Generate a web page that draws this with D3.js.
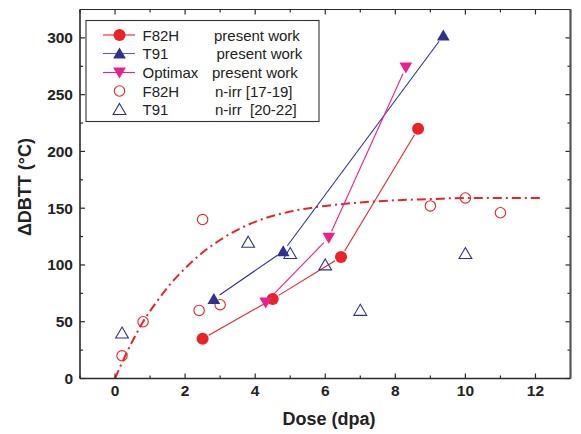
<!DOCTYPE html>
<html><head><meta charset="utf-8">
<script src="https://cdn.jsdelivr.net/npm/d3@7"></script>
<style>body{margin:0;background:#fff}svg{display:block;font-family:"Liberation Sans",Arial,sans-serif}</style>
</head><body><svg id="c" width="581" height="434"></svg>
<script>
// Data
const f82hDose = [2.5, 4.5, 6.45, 8.65];
const f82hDbtt = [35, 70, 107, 220];
const t91Dose = [2.82, 4.8, 9.37];
const t91Dbtt = [70, 112, 302];
const optDose = [4.3, 6.1, 8.3];
const optDbtt = [67, 124, 274];
const f82hIrrDose = [0.2, 0.8, 2.4, 2.5, 3.0, 9.0, 10.0, 11.0];
const f82hIrrDbtt = [20, 50, 60, 140, 65, 152, 159, 146];
const t91IrrDose = [0.2, 3.8, 5.0, 6.0, 7.0, 10.0];
const t91IrrDbtt = [40, 120, 110, 100, 60, 110];
const fitDose = [0, 0.2, 0.5, 0.8, 1.2, 1.6, 2, 2.5, 3, 3.5, 4, 5, 6, 7, 8, 9, 10, 11, 12.2];
const fitDbtt = [0, 14, 33, 50, 68, 84, 97, 111, 122, 131, 138, 147, 152, 155, 157, 158, 159, 159, 159];
const xTicks = [0, 2, 4, 6, 8, 10, 12];
const yTicks = [0, 50, 100, 150, 200, 250, 300];
const legendNames = ["F82H", "T91", "Optimax", "F82H", "T91"];
const legendNotes = ["present work", "present work", "present work", "n-irr [17-19]", "n-irr  [20-22]"];

const RED = "#ec2227", BLUE = "#2e3192", PINK = "#ec208b";
const svg = d3.select("#c");
const L = 80, R = 570.5, T = 9.5, B = 378.5;
const x = d3.scaleLinear().domain([-1, 13]).range([L, R]);
const y = d3.scaleLinear().domain([0, 325]).range([B, T]);
const zip = (a, b) => a.map((v, i) => [v, b[i]]);

// fit curve
svg.append("path").datum(zip(fitDose, fitDbtt))
  .attr("d", d3.line().x(d => x(d[0])).y(d => y(d[1])).curve(d3.curveMonotoneX))
  .attr("fill", "none").attr("stroke", RED).attr("stroke-width", 2)
  .attr("stroke-dasharray", "9,4,2,4");

// connecting lines with gaps at markers
function series(dx, dy, color) {
  const pts = zip(dx, dy).map(d => [x(d[0]), y(d[1])]);
  for (let i = 0; i < pts.length - 1; i++) {
    const [x1, y1] = pts[i], [x2, y2] = pts[i + 1];
    const len = Math.hypot(x2 - x1, y2 - y1), g = 7;
    const ux = (x2 - x1) / len, uy = (y2 - y1) / len;
    svg.append("line").attr("x1", x1 + ux * g).attr("y1", y1 + uy * g)
      .attr("x2", x2 - ux * g).attr("y2", y2 - uy * g)
      .attr("stroke", color).attr("stroke-width", 1.1);
  }
}
series(f82hDose, f82hDbtt, RED);
series(t91Dose, t91Dbtt, BLUE);
series(optDose, optDbtt, PINK);

const triUp = d3.symbol().type(d3.symbolTriangle).size(70);
function triUpPath(s) { return `M0,${-s*0.55}L${s*0.58},${s*0.45}L${-s*0.58},${s*0.45}Z`; }
function triDownPath(s) { return `M0,${s*0.55}L${s*0.58},${-s*0.45}L${-s*0.58},${-s*0.45}Z`; }

function marker(g, kind, cx, cy) {
  if (kind === "dot") g.append("circle").attr("cx", cx).attr("cy", cy).attr("r", 6).attr("fill", RED);
  if (kind === "ring") g.append("circle").attr("cx", cx).attr("cy", cy).attr("r", 5.2).attr("fill", "none").attr("stroke", RED).attr("stroke-width", 1.1);
  if (kind === "up") g.append("path").attr("transform", `translate(${cx},${cy})`).attr("d", triUpPath(11)).attr("fill", BLUE);
  if (kind === "upOpen") g.append("path").attr("transform", `translate(${cx},${cy})`).attr("d", triUpPath(11)).attr("fill", "none").attr("stroke", BLUE).attr("stroke-width", 1.1);
  if (kind === "down") g.append("path").attr("transform", `translate(${cx},${cy})`).attr("d", triDownPath(11)).attr("fill", PINK);
}
const mg = svg.append("g");
zip(f82hIrrDose, f82hIrrDbtt).forEach(d => marker(mg, "ring", x(d[0]), y(d[1])));
zip(t91IrrDose, t91IrrDbtt).forEach(d => marker(mg, "upOpen", x(d[0]), y(d[1])));
zip(f82hDose, f82hDbtt).forEach(d => marker(mg, "dot", x(d[0]), y(d[1])));
zip(t91Dose, t91Dbtt).forEach(d => marker(mg, "up", x(d[0]), y(d[1])));
zip(optDose, optDbtt).forEach(d => marker(mg, "down", x(d[0]), y(d[1])));

// axes
const AX = "#2a2a2a";
const ax = svg.append("g");
const xMinor = d3.range(-1, 13.01, 1), yMinor = d3.range(0, 325, 25);
xMinor.forEach(v => {
  const len = xTicks.includes(v) ? 5 : 3;
  ax.append("line").attr("x1", x(v)).attr("x2", x(v)).attr("y1", B).attr("y2", B - len).attr("stroke", AX).attr("stroke-width", 1.2);
  ax.append("line").attr("x1", x(v)).attr("x2", x(v)).attr("y1", T).attr("y2", T + len).attr("stroke", AX).attr("stroke-width", 1.2);
});
yMinor.forEach(v => {
  const len = yTicks.includes(v) ? 5 : 3;
  ax.append("line").attr("y1", y(v)).attr("y2", y(v)).attr("x1", L).attr("x2", L + len).attr("stroke", AX).attr("stroke-width", 1.2);
  ax.append("line").attr("y1", y(v)).attr("y2", y(v)).attr("x1", R).attr("x2", R - len).attr("stroke", AX).attr("stroke-width", 1.2);
});
ax.append("line").attr("x1", L).attr("x2", R).attr("y1", T).attr("y2", T).attr("stroke", AX).attr("stroke-width", 1);
ax.append("line").attr("x1", L).attr("x2", R).attr("y1", B).attr("y2", B).attr("stroke", AX).attr("stroke-width", 1.6);
ax.append("line").attr("x1", L).attr("x2", L).attr("y1", T).attr("y2", B).attr("stroke", AX).attr("stroke-width", 1.6);
ax.append("line").attr("x1", R).attr("x2", R).attr("y1", T).attr("y2", B).attr("stroke", "#555").attr("stroke-width", 2.2);

xTicks.forEach(v => ax.append("text").attr("x", x(v)).attr("y", 396).attr("text-anchor", "middle")
  .attr("font-size", 15.5).attr("font-weight", "bold").attr("fill", "#222").text(v));
yTicks.forEach(v => ax.append("text").attr("x", 73).attr("y", y(v) + 5.5).attr("text-anchor", "end")
  .attr("font-size", 15.5).attr("font-weight", "bold").attr("fill", "#222").text(v));

svg.append("text").attr("x", 329).attr("y", 425).attr("text-anchor", "middle").attr("font-size", 18)
  .attr("font-weight", "bold").attr("fill", "#222").text("Dose (dpa)");
svg.append("text").attr("transform", "translate(31,187) rotate(-90)").attr("text-anchor", "middle").attr("font-size", 18)
  .attr("font-weight", "bold").attr("fill", "#222").text("ΔDBTT (°C)");

// legend
const lg = svg.append("g");
lg.append("rect").attr("x", 86).attr("y", 20.5).attr("width", 233).attr("height", 101)
  .attr("fill", "#fff").attr("stroke", "#333").attr("stroke-width", 1.1);
const rowsY = [35, 53.5, 72.5, 91, 109.5];
const kinds = ["dot", "up", "down", "ring", "upOpen"];
const colors = [RED, "#5b63b0", PINK, null, null];
const noteX = [214, 216.5, 212, 215, 215];
rowsY.forEach((ry, i) => {
  if (colors[i]) lg.append("line").attr("x1", 103).attr("x2", 135).attr("y1", ry).attr("y2", ry).attr("stroke", colors[i]).attr("stroke-width", 1.1);
  marker(lg, kinds[i], 119.5, ry);
  lg.append("text").attr("x", 142.5).attr("y", ry + 5.5).attr("font-size", 15).attr("fill", "#222").text(legendNames[i]);
  lg.append("text").attr("x", noteX[i]).attr("y", ry + 5.5).attr("font-size", 15).attr("fill", "#222").attr("xml:space", "preserve").style("white-space", "pre").text(legendNotes[i]);
});
</script></body></html>
